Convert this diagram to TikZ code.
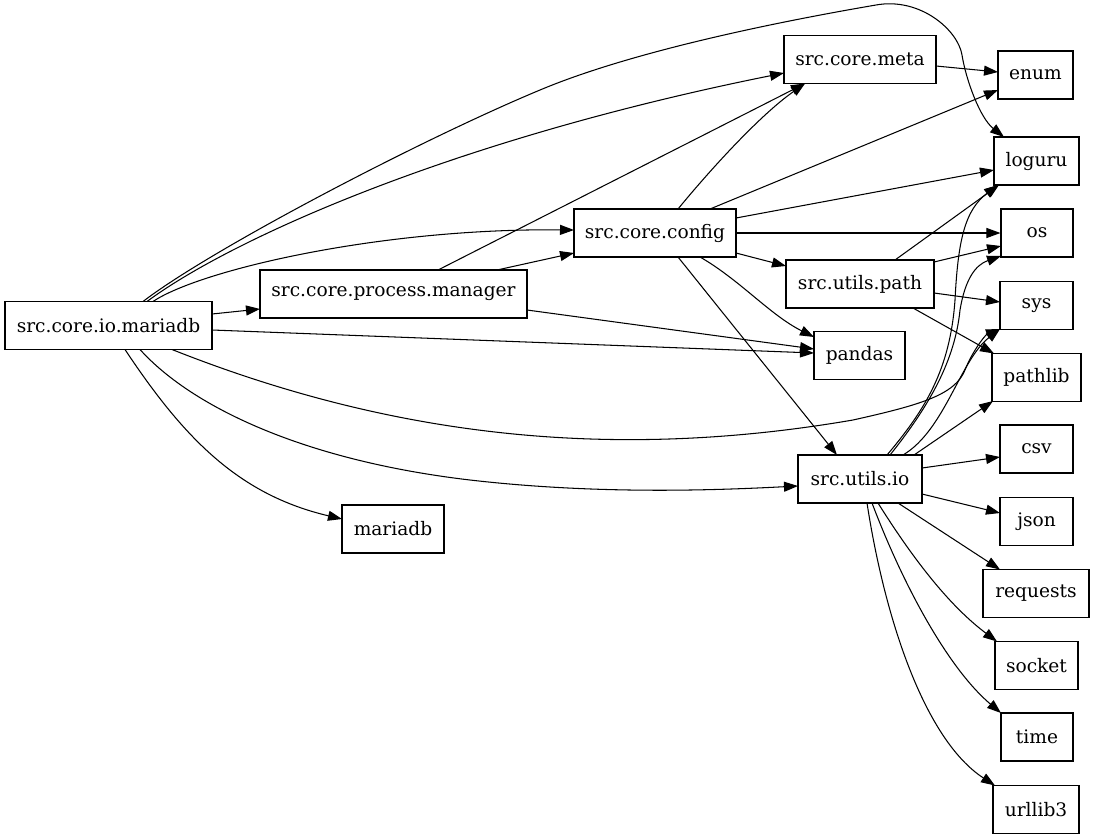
\documentclass[tikz,border=0pt]{standalone}
\usepackage{fontspec}
\setmainfont{DejaVu Serif}
\usetikzlibrary{arrows.meta}
\begin{document}
\begin{tikzpicture}[x=1pt,y=-1pt,
  box/.style={draw, line width=1.1pt, minimum height=48pt, inner sep=0pt, font=\fontsize{18.6}{21}\selectfont},
  edge/.style={line width=1.05pt, -{Triangle[length=14pt,width=10pt]}}]
\useasboundingbox (0,0) rectangle (1095,839);
% nodes
\node[box, minimum width=207pt] (mio) at (108.5,325.5) {src.core.io.mariadb};
\node[box, minimum width=267pt] (pm) at (393.5,294) {src.core.process.manager};
\node[box, minimum width=162pt] (cfg) at (655,233) {src.core.config};
\node[box, minimum width=152pt] (meta) at (860,59.5) {src.core.meta};
\node[box, minimum width=75pt] (enum) at (1035.5,75) {enum};
\node[box, minimum width=85pt] (loguru) at (1036.5,161) {loguru};
\node[box, minimum width=72pt] (os) at (1037,233) {os};
\node[box, minimum width=148pt] (path) at (860,284) {src.utils.path};
\node[box, minimum width=73pt] (sys) at (1036.5,305.5) {sys};
\node[box, minimum width=91pt] (pandas) at (859.5,355.5) {pandas};
\node[box, minimum width=89pt] (pathlib) at (1036.5,377.5) {pathlib};
\node[box, minimum width=73pt] (csv) at (1036.5,449) {csv};
\node[box, minimum width=124pt] (io) at (860,479) {src.utils.io};
\node[box, minimum width=73pt] (json) at (1036.5,521.5) {json};
\node[box, minimum width=102pt] (mariadb) at (393,529) {mariadb};
\node[box, minimum width=106pt] (requests) at (1036,593.5) {requests};
\node[box, minimum width=83pt] (socket) at (1036.5,665.5) {socket};
\node[box, minimum width=72pt] (time) at (1037,737) {time};
\node[box, minimum width=86pt] (urllib3) at (1036,809.5) {urllib3};
% src.core.io.mariadb
\draw[edge] ([shift={(34.5,-24)}]mio.center) .. controls (210,250) and (420,140) .. (540,90) .. controls (640,48) and (800,18) .. (876,5) .. controls (920,-3) and (958,30) .. (962,55) .. controls (966,80) and (980,118) .. ([shift={(-32.5,-24)}]loguru.center);
\draw[edge] ([shift={(38.5,-24)}]mio.center) .. controls (230,240) and (450,140) .. ([shift={(-76,13.5)}]meta.center);
\draw[edge] ([shift={(44.5,-24)}]mio.center) .. controls (200,270) and (380,228) .. ([shift={(-81,-3)}]cfg.center);
\draw[edge] ([shift={(103.5,-11.5)}]mio.center) -- ([shift={(-133.5,15)}]pm.center);
\draw[edge] ([shift={(103.5,4.5)}]mio.center) -- ([shift={(-45.5,-2.5)}]pandas.center);
\draw[edge] ([shift={(63.5,24)}]mio.center) .. controls (400,440) and (620,460) .. (853,420) .. controls (920,405) and (955,395) .. (965,370) .. controls (972,352) and (985,335) .. ([shift={(-36.5,23.5)}]sys.center);
\draw[edge] ([shift={(31.5,24)}]mio.center) .. controls (190,405) and (300,460) .. (470,480) .. controls (600,495) and (720,490) .. ([shift={(-62,7)}]io.center);
\draw[edge] ([shift={(16.5,24)}]mio.center) .. controls (185,440) and (240,495) .. ([shift={(-51,-10)}]mariadb.center);
% src.core.process.manager
\draw[edge] ([shift={(103.5,-24)}]pm.center) -- ([shift={(-81,20)}]cfg.center);
\draw[edge] ([shift={(44.5,-24)}]pm.center) -- ([shift={(-55,24)}]meta.center);
\draw[edge] ([shift={(133.5,16)}]pm.center) -- ([shift={(-45.5,-6.5)}]pandas.center);
% src.core.config
\draw[edge] ([shift={(23,-24)}]cfg.center) .. controls (710,170) and (760,115) .. ([shift={(-55,24)}]meta.center);
\draw[edge] ([shift={(55,-24)}]cfg.center) -- ([shift={(-37.5,15)}]enum.center);
\draw[edge] ([shift={(81,-15)}]cfg.center) -- ([shift={(-42.5,9)}]loguru.center);
\draw[edge] (cfg.east) -- (os.west);
\draw[edge] ([shift={(81,20)}]cfg.center) -- ([shift={(-74,-18)}]path.center);
\draw[edge] ([shift={(45,24)}]cfg.center) .. controls (740,280) and (770,315) .. ([shift={(-45.5,-18.5)}]pandas.center);
\draw[edge] ([shift={(23,24)}]cfg.center) -- ([shift={(-23,-24)}]io.center);
% src.core.meta
\draw[edge] ([shift={(76,6.5)}]meta.center) -- ([shift={(-37.5,-3)}]enum.center);
% src.utils.path
\draw[edge] ([shift={(35,-24)}]path.center) -- ([shift={(-37.5,24)}]loguru.center);
\draw[edge] ([shift={(74,-22)}]path.center) -- ([shift={(-36,13)}]os.center);
\draw[edge] ([shift={(74,9)}]path.center) -- ([shift={(-36.5,-3.5)}]sys.center);
\draw[edge] ([shift={(53,24)}]path.center) -- ([shift={(-42.5,-24)}]pathlib.center);
% src.utils.io
\draw[edge] ([shift={(27,-24)}]io.center) .. controls (925,410) and (950,370) .. (955,300) .. controls (958,240) and (965,210) .. ([shift={(-38.5,24)}]loguru.center);
\draw[edge] ([shift={(30,-24)}]io.center) .. controls (930,405) and (955,360) .. (960,310) .. controls (965,280) and (975,265) .. ([shift={(-36,23)}]os.center);
\draw[edge] ([shift={(43,-24)}]io.center) .. controls (945,430) and (960,360) .. ([shift={(-36.5,23.5)}]sys.center);
\draw[edge] ([shift={(54,-24)}]io.center) -- ([shift={(-43.5,23.5)}]pathlib.center);
\draw[edge] ([shift={(62,-11)}]io.center) -- ([shift={(-36.5,8)}]csv.center);
\draw[edge] ([shift={(62,15)}]io.center) -- ([shift={(-36.5,-8.5)}]json.center);
\draw[edge] ([shift={(38,24)}]io.center) -- ([shift={(-36,-24)}]requests.center);
\draw[edge] ([shift={(18,24)}]io.center) .. controls (920,570) and (955,610) .. ([shift={(-39.5,-24)}]socket.center);
\draw[edge] ([shift={(12,24)}]io.center) .. controls (905,590) and (950,670) .. ([shift={(-36,-24)}]time.center);
\draw[edge] ([shift={(7,24)}]io.center) .. controls (885,620) and (925,740) .. ([shift={(-41,-24)}]urllib3.center);
\end{tikzpicture}
\end{document}
